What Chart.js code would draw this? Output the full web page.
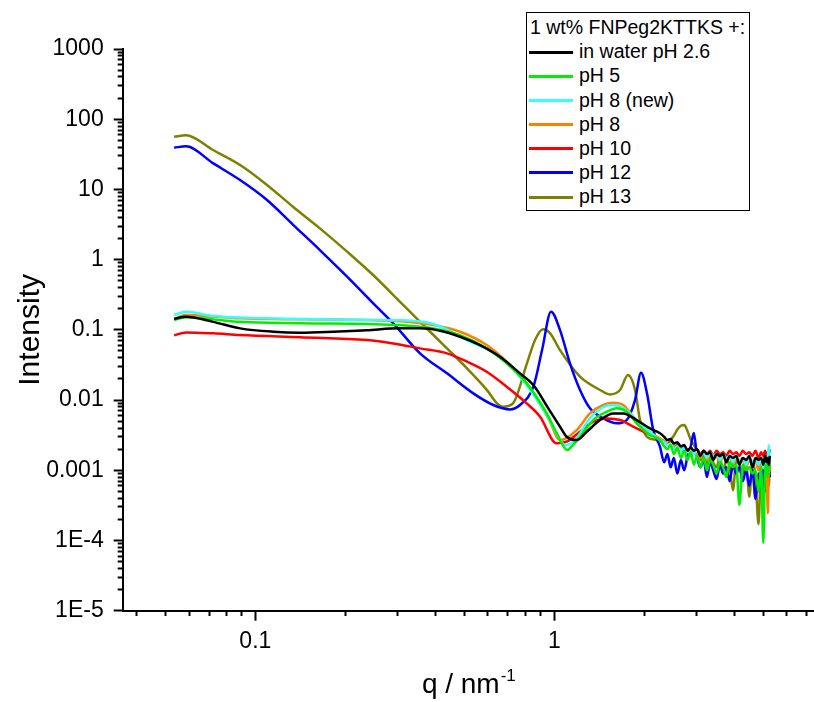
<!DOCTYPE html>
<html>
<head>
<meta charset="utf-8">
<script src="https://cdn.jsdelivr.net/npm/chart.js@4.4.1/dist/chart.umd.min.js"></script>
<style>
  body { margin: 0; background: #fff; }
  #wrap { position: relative; width: 814px; height: 702px; }
  #legend {
    position: absolute; left: 526px; top: 12px; width: 222px;
    border: 1px solid #000; background: #fff;
    padding: 2px 0 1px 0;
    font-family: "Liberation Sans", Arial, sans-serif; font-size: 19.5px;
    line-height: 24.2px; color: #000;
  }
  #legend .row { height: 24.2px; white-space: nowrap; }
  #legend .title { padding-left: 3px; }
  #legend .swatch { display: inline-block; width: 44px; height: 3px; margin: 0 6px 0 2px; vertical-align: middle; position: relative; top: -1px; }
</style>
</head>
<body>
<div id="wrap">
  <canvas id="grafico" width="814" height="702"></canvas>
  <div id="legend"></div>
</div>
<script>
// Datos (q en nm^-1, intensidad)
const legendTitle = '1 wt% FNPeg2KTTKS +:';
const seriesNames = ['in water pH 2.6', 'pH 5', 'pH 8 (new)', 'pH 8', 'pH 10', 'pH 12', 'pH 13'];
const seriesColors = ['#000000', '#00ee00', '#33ffff', '#ff8000', '#ff0000', '#0000ff', '#808000'];

// parte suave de cada curva
const qWater = [0.0535, 0.0583, 0.0723, 0.0889, 0.1148, 0.141, 0.1823, 0.2358, 0.3048, 0.3555, 0.4147, 0.4837, 0.5642, 0.6582, 0.7677, 0.851, 0.955, 1.045, 1.10, 1.188, 1.283, 1.422, 1.575, 1.701, 1.886, 2.089, 2.257];
const iWater = [0.1426, 0.154, 0.130, 0.105, 0.094, 0.091, 0.094, 0.099, 0.105, 0.105, 0.097, 0.0798, 0.0607, 0.0414, 0.024, 0.0164, 0.00762, 0.00417, 0.0030, 0.00269, 0.00353, 0.00519, 0.00646, 0.00646, 0.00519, 0.00395, 0.00336];

const qPH5 = [0.0535, 0.0586, 0.0723, 0.0889, 0.141, 0.2358, 0.3048, 0.3938, 0.4837, 0.594, 0.6932, 0.8085, 0.943, 1.018, 1.105, 1.146, 1.219, 1.35, 1.497, 1.617, 1.746, 1.886, 2.089, 2.257];
const iPH5 = [0.138, 0.151, 0.141, 0.130, 0.124, 0.121, 0.117, 0.105, 0.0843, 0.0545, 0.0333, 0.0173, 0.00646, 0.0034, 0.00194, 0.00221, 0.0030, 0.00519, 0.0068, 0.00762, 0.0068, 0.00466, 0.00317, 0.00269];

const qPH8new = [0.0535, 0.0586, 0.0723, 0.1094, 0.1823, 0.3048, 0.3938, 0.5105, 0.6582, 0.7677, 0.943, 1.029, 1.086, 1.173, 1.316, 1.458, 1.575, 1.701, 1.886, 2.089, 2.257];
const iPH8new = [0.1625, 0.181, 0.157, 0.146, 0.140, 0.137, 0.121, 0.0716, 0.0414, 0.0215, 0.00611, 0.00307, 0.00229, 0.00269, 0.00554, 0.00794, 0.0085, 0.00769, 0.00519, 0.0035, 0.00269];

const qPH8 = [0.0535, 0.0586, 0.0723, 0.0889, 0.141, 0.2358, 0.3048, 0.3938, 0.4837, 0.594, 0.6932, 0.8085, 0.955, 1.045, 1.188, 1.316, 1.458, 1.575, 1.701, 1.837, 2.042, 2.257];
const iPH8 = [0.1426, 0.1625, 0.154, 0.146, 0.141, 0.138, 0.133, 0.117, 0.094, 0.0607, 0.0352, 0.0173, 0.00548, 0.00269, 0.00374, 0.00646, 0.0085, 0.00916, 0.0085, 0.00578, 0.00374, 0.00284];

const qPH10 = [0.0535, 0.0586, 0.0723, 0.0889, 0.141, 0.2358, 0.2893, 0.3555, 0.4375, 0.5105, 0.594, 0.6932, 0.8085, 0.896, 1.018, 1.10, 1.219, 1.35, 1.497, 1.659, 1.837, 2.042, 2.257];
const iPH10 = [0.0835, 0.092, 0.0891, 0.0843, 0.0782, 0.0716, 0.0641, 0.0545, 0.0463, 0.0352, 0.0253, 0.0155, 0.00897, 0.00578, 0.00242, 0.00255, 0.00353, 0.00491, 0.00548, 0.00519, 0.00417, 0.00336, 0.0028];

const qPH12 = [0.0535, 0.0586, 0.0723, 0.0889, 0.1094, 0.134, 0.1644, 0.2027, 0.248, 0.2893, 0.3555, 0.4375, 0.5358, 0.625, 0.711, 0.7677, 0.851, 0.910, 0.975, 1.045, 1.128, 1.219, 1.316, 1.458, 1.617, 1.746, 1.862, 1.95, 2.042, 2.143, 2.257];
const iPH12 = [39.3, 41.1, 23.5, 13.6, 7.06, 3.11, 1.37, 0.571, 0.238, 0.124, 0.0463, 0.024, 0.01245, 0.0085, 0.00736, 0.0085, 0.0155, 0.0515, 0.181, 0.0993, 0.0333, 0.0139, 0.00762, 0.00548, 0.00466, 0.00519, 0.01, 0.0245, 0.01245, 0.00374, 0.00216];

const qPH13 = [0.0535, 0.0586, 0.0722, 0.0889, 0.1094, 0.1336, 0.1644, 0.2027, 0.2477, 0.3048, 0.3555, 0.4375, 0.5105, 0.5955, 0.643, 0.673, 0.7273, 0.810, 0.862, 0.917, 0.967, 1.045, 1.219, 1.422, 1.535, 1.659, 1.764, 1.862, 1.935, 2.042, 2.2];
const iPH13 = [56.3, 59, 36.4, 22.3, 11.6, 5.67, 2.79, 1.30, 0.604, 0.251, 0.130, 0.0545, 0.0283, 0.01387, 0.00897, 0.00802, 0.00897, 0.0333, 0.0716, 0.1016, 0.090, 0.0515, 0.0215, 0.0139, 0.01205, 0.0139, 0.0227, 0.0139, 0.00519, 0.0030, 0.0027];

// cola ruidosa (q comun para todas las curvas)
const qTail = [2.33, 2.39, 2.45, 2.51, 2.58, 2.65, 2.72, 2.79, 2.86, 2.93, 3.00, 3.08, 3.16, 3.24, 3.32, 3.40, 3.49, 3.58, 3.67, 3.76, 3.86, 3.96, 4.06, 4.16, 4.27, 4.38, 4.49, 4.60, 4.71, 4.82, 4.92, 5.00, 5.07, 5.13, 5.18, 5.22, 5.26];
const iWaterTail = [0.0030, 0.0027, 0.0028, 0.0024, 0.0025, 0.0022, 0.0023, 0.0019, 0.0021, 0.0019, 0.0020, 0.0016, 0.0019, 0.0017, 0.0018, 0.0014, 0.0017, 0.0016, 0.0017, 0.0013, 0.0016, 0.0015, 0.0016, 0.0012, 0.0015, 0.0014, 0.0016, 0.0011, 0.0015, 0.0014, 0.0015, 0.0012, 0.0016, 0.0013, 0.0015, 0.0012, 0.0016];
const iPH5Tail = [0.0022, 0.0020, 0.0023, 0.0017, 0.0021, 0.0015, 0.0019, 0.0014, 0.0018, 0.0012, 0.0016, 0.0011, 0.0015, 0.0010, 0.0014, 0.0012, 0.0009, 0.0013, 0.0011, 0.0008, 0.0013, 0.0011, 0.0012, 0.00032, 0.0012, 0.0010, 0.0011, 0.0009, 0.0010, 0.0005, 0.0011, 0.000092, 0.0010, 0.0012, 0.0008, 0.0013, 0.0011];
const iPH8newTail = [0.0025, 0.0023, 0.0024, 0.0020, 0.0022, 0.0019, 0.0021, 0.0018, 0.0020, 0.0017, 0.0019, 0.0016, 0.0018, 0.0015, 0.0018, 0.0016, 0.0017, 0.0014, 0.0017, 0.0015, 0.0016, 0.0013, 0.0016, 0.0014, 0.0015, 0.0012, 0.0015, 0.0013, 0.0015, 0.0012, 0.0014, 0.0011, 0.0014, 0.0012, 0.0015, 0.0023, 0.0013];
const iPH8Tail = [0.0026, 0.0024, 0.0022, 0.0023, 0.0019, 0.0021, 0.0018, 0.0020, 0.0016, 0.0019, 0.0017, 0.0015, 0.0018, 0.0014, 0.0017, 0.0015, 0.0016, 0.0013, 0.0016, 0.0014, 0.0015, 0.0012, 0.0015, 0.0013, 0.0014, 0.0011, 0.0014, 0.0012, 0.0014, 0.0010, 0.0013, 0.0011, 0.0013, 0.0009, 0.000245, 0.0012, 0.0016];
const iPH10Tail = [0.0026, 0.0024, 0.0025, 0.0021, 0.0023, 0.0020, 0.0022, 0.0019, 0.0021, 0.0018, 0.0020, 0.0017, 0.0019, 0.0017, 0.0019, 0.0016, 0.0019, 0.0017, 0.0018, 0.0016, 0.0019, 0.0017, 0.0018, 0.0016, 0.0019, 0.0017, 0.0018, 0.0016, 0.0019, 0.0015, 0.0018, 0.0016, 0.0019, 0.0016, 0.0018, 0.0017, 0.0020];
const iPH12Tail = [0.0013, 0.0017, 0.0011, 0.0015, 0.0009, 0.0014, 0.0010, 0.0016, 0.0022, 0.0034, 0.0016, 0.0011, 0.0014, 0.0008, 0.0013, 0.0010, 0.00075, 0.0012, 0.0009, 0.0011, 0.0007, 0.0012, 0.0009, 0.0011, 0.0007, 0.0010, 0.0006, 0.0010, 0.00039, 0.0009, 0.0007, 0.0010, 0.0005, 0.0009, 0.0006, 0.0010, 0.0008];
const iPH13Tail = [0.0025, 0.0024, 0.0027, 0.0031, 0.0038, 0.0043, 0.0044, 0.0036, 0.0027, 0.0023, 0.0019, 0.0014, 0.0017, 0.0012, 0.0016, 0.0013, 0.0011, 0.0016, 0.0009, 0.0014, 0.0011, 0.00052, 0.0014, 0.0012, 0.0009, 0.0013, 0.00042, 0.0013, 0.0008, 0.00017, 0.0012, 0.0005, 0.0011, 0.0007, 0.0013, 0.0006, 0.0014];

const xTickValues = [0.04, 0.05, 0.06, 0.07, 0.08, 0.09, 0.1, 0.2, 0.3, 0.4, 0.5, 0.6, 0.7, 0.8, 0.9, 1, 2, 3, 4, 5, 6, 7];
const xTickLabels = { 0.1: '0.1', 1: '1' };
const yDecades = [1e-5, 1e-4, 1e-3, 1e-2, 1e-1, 1, 10, 100, 1000];
const yTickLabels = ['1E-5', '1E-4', '0.001', '0.01', '0.1', '1', '10', '100', '1000'];

const allQ = [qWater, qPH5, qPH8new, qPH8, qPH10, qPH12, qPH13];
const allI = [iWater, iPH5, iPH8new, iPH8, iPH10, iPH12, iPH13];
const allTail = [iWaterTail, iPH5Tail, iPH8newTail, iPH8Tail, iPH10Tail, iPH12Tail, iPH13Tail];

document.addEventListener('DOMContentLoaded', function () {
    const fuente = '"Liberation Sans", Arial, sans-serif';

    function esDecada(v) {
        const l = Math.log10(v);
        return Math.abs(l - Math.round(l)) < 1e-6;
    }

    // ticks menores: decadas * 2..9
    const yTickValues = [];
    yDecades.forEach(function (d, k) {
        for (let m = 1; m <= 9; m++) {
            if (k === yDecades.length - 1 && m > 1) break;
            yTickValues.push(d * m);
        }
    });

    const datasets = seriesNames.map(function (nombre, i) {
        const puntos = allQ[i].map(function (q, j) { return { x: q, y: allI[i][j] }; })
            .concat(qTail.map(function (q, j) { return { x: q, y: allTail[i][j] }; }));
        return {
            label: nombre,
            data: puntos,
            borderColor: seriesColors[i],
            backgroundColor: seriesColors[i],
            borderWidth: 2.5,
            pointRadius: 0,
            fill: false,
            cubicInterpolationMode: 'monotone'
        };
    });

    // Titulo del eje x con superindice
    const tituloX = {
        id: 'tituloX',
        afterDraw(chart) {
            const ctx = chart.ctx;
            const area = chart.chartArea;
            ctx.save();
            ctx.fillStyle = '#000';
            ctx.textBaseline = 'alphabetic';
            ctx.font = '28px ' + fuente;
            const t1 = 'q / nm';
            const w1 = ctx.measureText(t1).width;
            ctx.font = '17px ' + fuente;
            const t2 = '-1';
            const w2 = ctx.measureText(t2).width;
            const x0 = (area.left + area.right) / 2 - (w1 + w2) / 2;
            const base = chart.height - 9;
            ctx.font = '28px ' + fuente;
            ctx.fillText(t1, x0, base);
            ctx.font = '17px ' + fuente;
            ctx.fillText(t2, x0 + w1 + 1, base - 12);
            ctx.restore();
        }
    };

    const ctx = document.getElementById('grafico').getContext('2d');
    new Chart(ctx, {
        type: 'line',
        data: { datasets: datasets },
        plugins: [tituloX],
        options: {
            responsive: false,
            animation: false,
            layout: { padding: { top: 49, right: 0, left: 0, bottom: 0 } },
            plugins: { legend: { display: false }, tooltip: { enabled: false } },
            scales: {
                x: {
                    type: 'logarithmic',
                    min: 0.0360,
                    max: 7.39,
                    afterBuildTicks: function (s) { s.ticks = xTickValues.map(function (v) { return { value: v }; }); },
                    afterFit: function (s) { s.height = 91.3; },
                    ticks: {
                        autoSkip: false,
                        maxRotation: 0,
                        padding: 7,
                        color: '#000',
                        font: { family: fuente, size: 23 },
                        callback: function (v) { return xTickLabels[v] || ''; }
                    },
                    grid: {
                        drawOnChartArea: false,
                        tickLength: 10,
                        tickColor: '#000',
                        tickWidth: 2,
                        tickBorderDash: function (c) { return (c.tick && esDecada(c.tick.value)) ? [] : [4, 100]; }
                    },
                    border: { display: true, color: '#000', width: 2 }
                },
                y: {
                    type: 'logarithmic',
                    min: 1e-5,
                    max: 1000,
                    afterBuildTicks: function (s) { s.ticks = yTickValues.map(function (v) { return { value: v }; }); },
                    afterFit: function (s) { s.width = 122.7; },
                    ticks: {
                        autoSkip: false,
                        padding: 10,
                        color: '#000',
                        font: { family: fuente, size: 23 },
                        callback: function (v) {
                            const k = yDecades.findIndex(function (d) { return Math.abs(Math.log10(d) - Math.log10(v)) < 1e-6; });
                            return k >= 0 ? yTickLabels[k] : '';
                        }
                    },
                    grid: {
                        drawOnChartArea: false,
                        tickLength: 9,
                        tickColor: '#000',
                        tickWidth: 2,
                        tickBorderDash: function (c) { return (c.tick && esDecada(c.tick.value)) ? [] : [0, 4, 5, 100]; }
                    },
                    border: { display: true, color: '#000', width: 2 },
                    title: {
                        display: true,
                        text: 'Intensity',
                        color: '#000',
                        padding: { top: 13, bottom: 0 },
                        font: { family: fuente, size: 30 }
                    }
                }
            }
        }
    });

    // Leyenda en HTML
    const leyenda = document.getElementById('legend');
    let html = '<div class="row title">' + legendTitle + '</div>';
    seriesNames.forEach(function (nombre, i) {
        html += '<div class="row"><span class="swatch" style="background:' + seriesColors[i] + '"></span>' + nombre + '</div>';
    });
    leyenda.innerHTML = html;
});
</script>
</body>
</html>
